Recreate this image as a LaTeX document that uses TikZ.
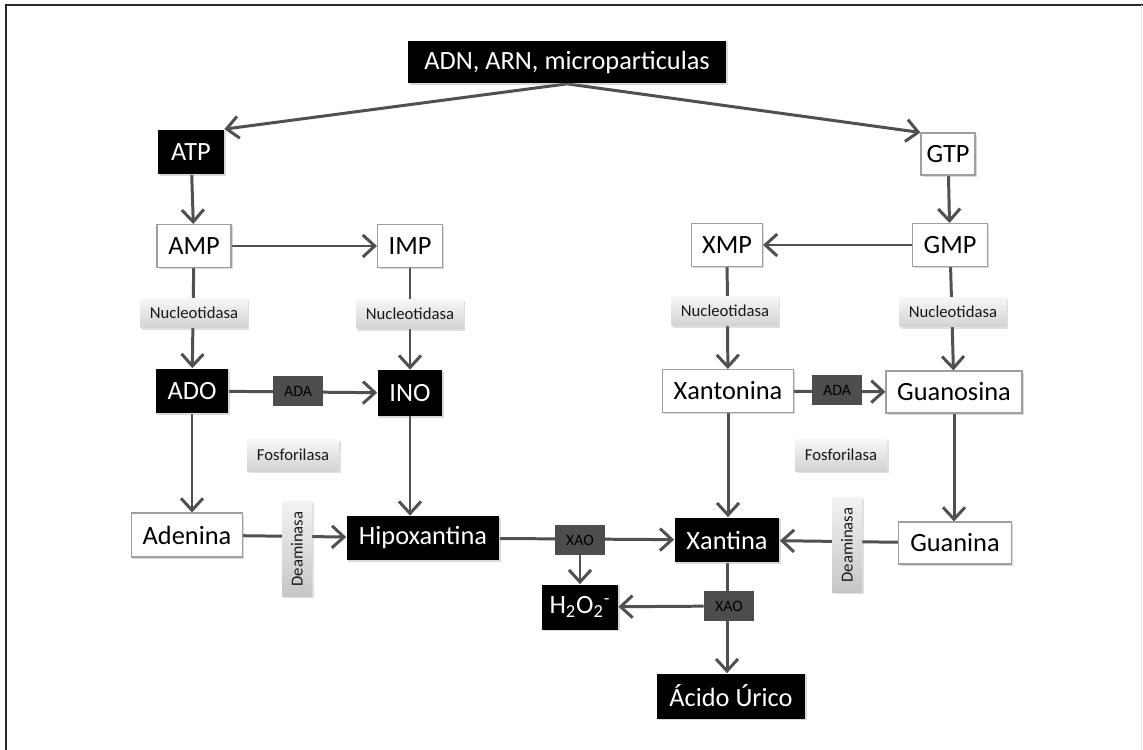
\documentclass[tikz,border=0pt]{standalone}
\usepackage{fontspec}
\setmainfont{Carlito}
\usetikzlibrary{arrows.meta,shadows}
\definecolor{pathgray}{HTML}{505050}
\definecolor{enzdark}{HTML}{4D4D4D}
\pgfdeclarelayer{bg}
\pgfsetlayers{bg,main}

\begin{document}
\begin{tikzpicture}[x=0.02cm,y=-0.02cm]
\tikzstyle{mol}=[rectangle, inner sep=0pt, font=\fontsize{15}{18}\selectfont, drop shadow={shadow xshift=1pt, shadow yshift=-1pt, opacity=0.3}]
\tikzstyle{blk}=[mol, fill=black, text=white]
\tikzstyle{wht}=[mol, draw=gray!75, line width=0.6pt, fill=white, text=black]
\tikzstyle{enz}=[rectangle, inner sep=0pt, font=\fontsize{9.5}{11}\selectfont, text=black!90, top color=gray!6, bottom color=gray!35, minimum width=2.14cm, minimum height=0.6cm, drop shadow={shadow xshift=1pt, shadow yshift=-1pt, opacity=0.25}]
\tikzstyle{enzv}=[enz, rotate=90, top color=gray!10, bottom color=gray!45, minimum width=1.9cm, minimum height=0.6cm]
\tikzstyle{cut}=[rectangle, inner sep=0pt, fill=enzdark, text=black, font=\fontsize{9}{10}\selectfont, minimum width=1cm, minimum height=0.6cm]
\tikzstyle{flow}=[draw=pathgray, line width=1.7pt, -{Straight Barb[length=2.4mm,width=4.4mm]}]

\useasboundingbox (0,0) rectangle (1143,750);
\draw[black!85, line width=1.2pt] (6,750) -- (6,5) -- (1143,5);
\draw[gray!20] (1141,5) -- (1141,750);

% nucleotidos
\node[blk, minimum width=6.36cm, minimum height=0.86cm] (adn) at (567,62) {ADN, ARN, microparticulas};
\node[blk, minimum width=1.32cm, minimum height=0.9cm] (atp) at (191,152) {ATP};
\node[wht, minimum width=1.08cm, minimum height=0.84cm] (gtp) at (948,154) {GTP};
\node[wht, minimum width=1.48cm, minimum height=0.86cm] (amp) at (194,246) {AMP};
\node[wht, minimum width=1.3cm, minimum height=0.86cm] (imp) at (410,246) {IMP};
\node[wht, minimum width=1.42cm, minimum height=0.86cm] (xmp) at (727,245) {XMP};
\node[wht, minimum width=1.5cm, minimum height=0.86cm] (gmp) at (950,245) {GMP};

% nucleosidos
\node[blk, minimum width=1.46cm, minimum height=0.9cm] (ado) at (192,391) {ADO};
\node[blk, minimum width=1.3cm, minimum height=0.92cm] (ino) at (410,393) {INO};
\node[wht, minimum width=2.62cm, minimum height=0.86cm] (xton) at (728,391) {Xantonina};
\node[wht, minimum width=2.72cm, minimum height=0.84cm] (guo) at (954,392) {Guanosina};

% bases
\node[wht, minimum width=2.22cm, minimum height=0.88cm] (ade) at (187,535) {Adenina};
\node[blk, minimum width=3.06cm, minimum height=0.88cm] (hyp) at (423,538) {Hipoxantina};
\node[blk, minimum width=2.1cm, minimum height=0.9cm] (xan) at (727,540) {Xantina};
\node[wht, minimum width=2.26cm, minimum height=0.84cm] (gua) at (955,543) {Guanina};
\node[blk, minimum width=1.52cm, minimum height=0.9cm] (h2o2) at (580,607) {H\textsubscript{2}O\textsubscript{2}\textsuperscript{-}};
\node[blk, minimum width=2.96cm, minimum height=0.9cm] (uric) at (731,696) {Ácido Úrico};

% enzimas
\node[enz] (nuca) at (194,313) {Nucleotidasa};
\node[enz] (nucb) at (410,314) {Nucleotidasa};
\node[enz] (nucc) at (725,311) {Nucleotidasa};
\node[enz] (nucd) at (953,312) {Nucleotidasa};
\node[cut] (adaa) at (298,391) {ADA};
\node[cut] (adab) at (837,390) {ADA};
\node[enz, minimum width=1.84cm, minimum height=0.64cm] (fosa) at (293,455) {Fosforilasa};
\node[enz, minimum width=1.84cm, minimum height=0.64cm] (fosb) at (841,455) {Fosforilasa};
\node[enzv] (deaa) at (297,549) {Deaminasa};
\node[enzv] (deab) at (847,545) {Deaminasa};
\node[cut] (xaoa) at (580,540) {XAO};
\node[cut] (xaob) at (729,606) {XAO};

\begin{pgfonlayer}{bg}
\draw[flow] (adn.south) -- (atp.north east);
\draw[flow] (adn.south) -- (gtp.north west);
\draw[flow] (atp) -- (amp);
\draw[flow] (gtp) -- (gmp);
\draw[flow] (amp) -- (imp);
\draw[flow] (gmp) -- (xmp);
\draw[flow] (amp) -- (ado);
\draw[flow] (imp) -- (ino);
\draw[flow] (xmp) -- (xton);
\draw[flow] (gmp) -- (guo);
\draw[flow] (ado) -- (ino);
\draw[flow] (xton) -- (guo);
\draw[flow] (ado.south) -- (ado.south |- ade.north);
\draw[flow] (ino.south) -- (ino.south |- hyp.north);
\draw[flow] (xton.south) -- (xton.south |- xan.north);
\draw[flow] (guo.south) -- (guo.south |- gua.north);
\draw[flow] (ade) -- (hyp);
\draw[flow] (hyp) -- (xan);
\draw[flow] (gua) -- (xan);
\draw[flow] (xaoa) -- (h2o2);
\draw[flow] (xan.south) -- (xan.south |- uric.north);
\draw[flow] (xaob) -- (h2o2);
\end{pgfonlayer}
\end{tikzpicture}
\end{document}
